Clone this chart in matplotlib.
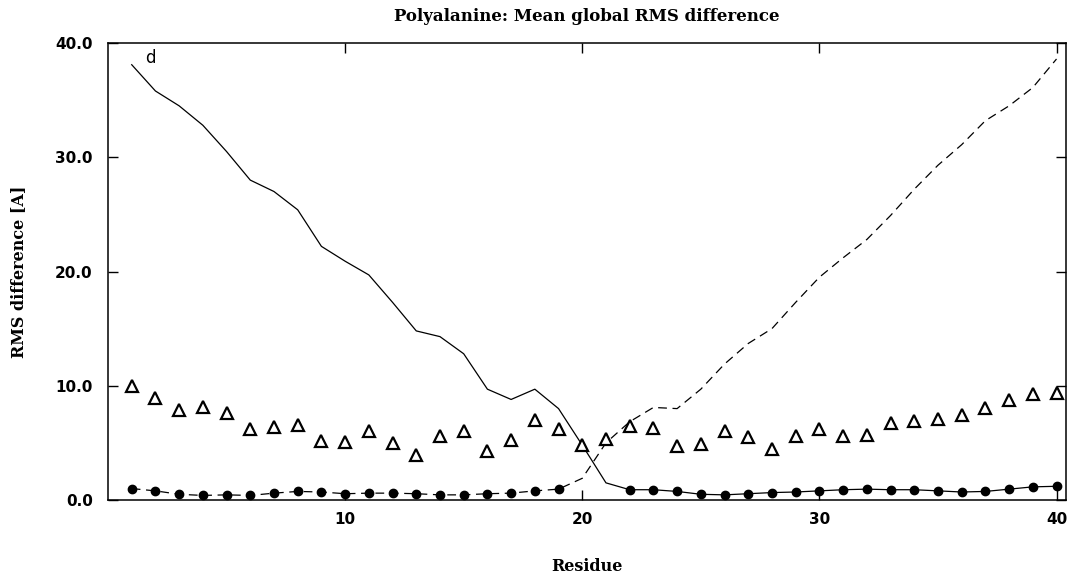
import numpy as np
import matplotlib
matplotlib.use("Agg")
import matplotlib.pyplot as plt

residues = np.arange(1, 41)

# solid curve (RMS vs. first reference) for residues 1..21
solid_head = [38.1, 35.8, 34.5, 32.8, 30.5, 28.0, 27.0, 25.4, 22.2, 20.9,
              19.7, 17.3, 14.8, 14.3, 12.8, 9.7, 8.8, 9.7, 8.0, 4.8, 1.5]
# dashed curve (RMS vs. second reference) for residues 20..40
dashed_tail = [1.9, 5.0, 6.85, 8.1, 8.0, 9.7, 11.9, 13.7, 15.0, 17.3,
               19.5, 21.2, 22.8, 24.9, 27.2, 29.3, 31.1, 33.2, 34.5, 36.1, 38.6]
# filled circles (minimum RMS), residues 1..19 and 22..40
circle_left_x = list(range(1, 20))
circle_left_y = [1.0, 0.8, 0.5, 0.4, 0.45, 0.4, 0.6, 0.75, 0.7, 0.55,
                 0.6, 0.6, 0.55, 0.45, 0.45, 0.55, 0.6, 0.8, 0.95]
circle_right_x = list(range(22, 41))
circle_right_y = [0.9, 0.9, 0.75, 0.5, 0.45, 0.55, 0.65, 0.7, 0.8, 0.9,
                  0.95, 0.9, 0.9, 0.8, 0.7, 0.75, 0.95, 1.15, 1.2]
# open triangles
triangles = [10.0, 8.95, 7.9, 8.1, 7.6, 6.2, 6.4, 6.6, 5.15, 5.1,
             6.0, 5.0, 3.9, 5.6, 6.0, 4.3, 5.25, 7.0, 6.2, 4.85,
             5.3, 6.5, 6.3, 4.7, 4.9, 6.05, 5.5, 4.5, 5.6, 6.25,
             5.6, 5.7, 6.7, 6.9, 7.05, 7.4, 8.05, 8.75, 9.3, 9.35]

x_ticks = [10, 20, 30, 40]
y_ticks = [0, 10, 20, 30, 40]
y_ticklabels = ["0.0", "10.0", "20.0", "30.0", "40.0"]

solid = solid_head + circle_right_y
dashed = circle_left_y + dashed_tail

fig = plt.figure(figsize=(10.67, 5.76), dpi=100)
ax = fig.add_axes([108 / 1067, 76 / 576, 958 / 1067, 457 / 576])

ax.plot(residues, solid, color="black", lw=0.9, ls="-")
ax.plot(residues[:len(dashed)], dashed, color="black", lw=0.9, ls=(0, (7, 4.5)))
ax.plot(residues, triangles, ls="none", marker="^", ms=9, mfc="white",
        mec="black", mew=1.6)
ax.plot(circle_left_x, circle_left_y, ls="none", marker="o", ms=6,
        color="black")
ax.plot(circle_right_x, circle_right_y, ls="none", marker="o", ms=6,
        color="black")

ax.set_xlim(0, 40.4)
ax.set_ylim(0, 40)
ax.set_xticks(x_ticks)
ax.set_xticklabels([str(t) for t in x_ticks], fontsize=11, fontweight="bold",
                   family="DejaVu Sans")
ax.set_yticks(y_ticks)
ax.set_yticklabels(y_ticklabels, fontsize=11, fontweight="bold",
                   family="DejaVu Sans")
ax.tick_params(axis="both", direction="in", length=7, width=1, top=True,
               right=True)
ax.tick_params(axis="y", pad=11)
ax.tick_params(axis="x", pad=9)
for s in ax.spines.values():
    s.set_linewidth(1.1)

ax.text(1.8, 38.7, "d", fontsize=12, family="DejaVu Sans", ha="center",
        va="center")

ax.set_title("Polyalanine: Mean global RMS difference", fontsize=12,
             fontweight="bold", family="DejaVu Serif", pad=16)
ax.set_xlabel("Residue", fontsize=11.5, fontweight="bold", family="DejaVu Serif",
              labelpad=22)
ax.set_ylabel("RMS difference [A]", fontsize=11.5, fontweight="bold",
              family="DejaVu Serif", labelpad=20)

fig.savefig("out.png", dpi=100)
